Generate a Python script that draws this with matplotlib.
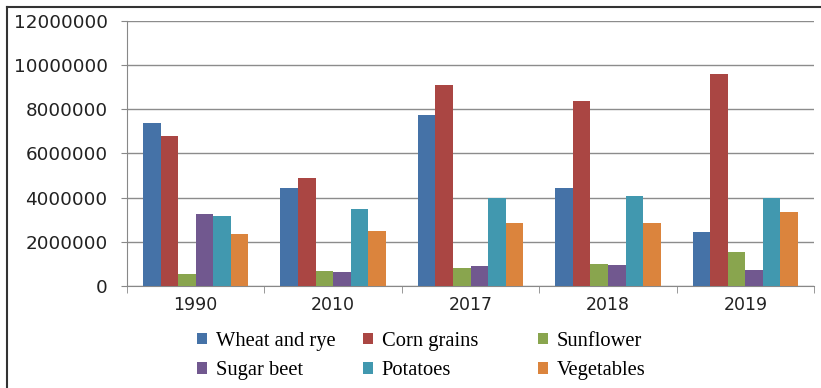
import matplotlib
matplotlib.use("Agg")
import matplotlib.pyplot as plt
from matplotlib.lines import Line2D
import numpy as np

years = ["1990", "2010", "2017", "2018", "2019"]
wheat = [7400000, 4420000, 7750000, 4420000, 2460000]
corn = [6800000, 4900000, 9100000, 8380000, 9600000]
sunflower = [540000, 690000, 830000, 1000000, 1520000]
sugar_beet = [3260000, 630000, 890000, 940000, 740000]
potatoes = [3170000, 3470000, 3990000, 4090000, 4000000]
vegetables = [2360000, 2500000, 2840000, 2840000, 3370000]

series_names = ["Wheat and rye", "Corn grains", "Sunflower", "Sugar beet", "Potatoes", "Vegetables"]
series = [wheat, corn, sunflower, sugar_beet, potatoes, vegetables]
colors = ['#4572A7', '#AA4643', '#89A54E', '#71588F', '#4198AF', '#DB843D']

fig = plt.figure(figsize=(8.21, 3.88), dpi=100)
ax = fig.add_axes([0.1547, 0.2629, 0.8368, 0.683])

x = np.arange(len(years))
w = 0.128
handles = []
for i, (name, vals, c) in enumerate(zip(series_names, series, colors)):
    h = ax.bar(x + (i - 2.5) * w, vals, width=w, color=c, label=name, zorder=3)
    handles.append(h)

ax.set_xlim(-0.5, len(years) - 0.5)
ax.set_ylim(0, 12000000)
ax.set_yticks(np.arange(0, 12000001, 2000000))
ax.set_yticklabels([str(v) for v in range(0, 12000001, 2000000)],
                   fontfamily="DejaVu Sans", fontsize=13.2, color="#222222")
ax.set_xticks(x)
ax.set_xticklabels(years, fontfamily="DejaVu Sans", fontsize=12.5, color="#222222")
ax.set_xticks(np.arange(-0.5, len(years)), minor=True)
ax.tick_params(axis='x', which='major', length=0, pad=7)
ax.tick_params(axis='x', which='minor', length=5, color='#888888', direction='out')
ax.tick_params(axis='y', length=4, color='#888888', direction='out', pad=10)

ax.grid(axis='y', color='#8c8c8c', linewidth=1, zorder=0)
for s in ['top', 'right']:
    ax.spines[s].set_visible(False)
ax.spines['left'].set_color('#888888')
ax.spines['bottom'].set_color('#888888')

col_x = [197 / 821, 363 / 821, 538 / 821]
for j in range(3):
    idx = [j, j + 3]
    fig.legend(handles=[handles[k] for k in idx], labels=[series_names[k] for k in idx],
               loc='center left', bbox_to_anchor=(col_x[j], (388 - 356) / 388),
               ncol=1, frameon=False, borderpad=0, borderaxespad=0,
               prop={'family': 'Liberation Serif', 'size': 14.8},
               handlelength=0.5, handleheight=0.5, handletextpad=0.4,
               labelspacing=0.52)

fx0 = 6.5 / 821
fy0 = 1 - 6.5 / 388
fig.lines.append(Line2D([fx0, 1.0], [fy0, fy0], transform=fig.transFigure,
                        color='#333333', linewidth=1.5))
fig.lines.append(Line2D([fx0, fx0], [0.0, fy0], transform=fig.transFigure,
                        color='#333333', linewidth=1.5))

fig.savefig("out.png", dpi=100)
